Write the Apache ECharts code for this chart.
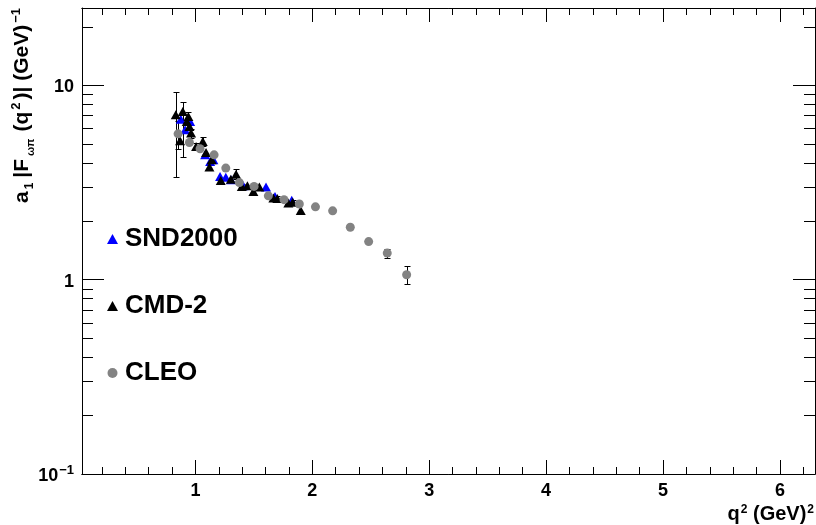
<!DOCTYPE html>
<html><head><meta charset="utf-8">
<script src="https://cdn.jsdelivr.net/npm/echarts@6/dist/echarts.min.js"></script>
<style>html,body{margin:0;padding:0;background:#fff}#c{width:816px;height:525px}</style>
</head><body><div id="c"></div>
<script>
// ---- axis ranges & ticks ----
const xMin = 0.03, xMax = 6.3, yMin = 0.1, yMax = 25;
const xMajorTicks = [1, 2, 3, 4, 5, 6];
const xMinorTicks = [0.2,0.4,0.6,0.8,1.2,1.4,1.6,1.8,2.2,2.4,2.6,2.8,3.2,3.4,3.6,3.8,4.2,4.4,4.6,4.8,5.2,5.4,5.6,5.8,6.2];
const yMajorTicks = [0.1, 1, 10];
const yMajorLabels = ['10^-1', '1', '10'];
const yMinorTicks = [0.2,0.3,0.4,0.5,0.6,0.7,0.8,0.9,2,3,4,5,6,7,8,9,20];

// ---- SND2000 ----
const sndX = [0.875,0.912,0.955,1.083,1.126,1.154,1.211,1.260,1.305,1.410,1.604,1.681,1.824];
const sndY = [6.70,5.91,6.51,4.39,4.06,4.14,3.40,3.37,3.27,3.04,3.00,2.68,2.56];

// ---- CMD-2 ----
const cmdX = [0.832,0.892,0.869,0.926,0.940,0.949,0.963,1.006,1.063,1.091,1.120,1.140,1.217,1.303,1.348,1.397,1.445,1.496,1.547,1.667,1.701,1.795,1.832,1.901];
const cmdY = [7.05,7.33,5.18,6.51,6.91,6.14,5.68,4.85,5.14,4.51,3.80,4.14,3.24,3.29,3.49,3.02,3.04,2.84,3.00,2.63,2.62,2.48,2.50,2.27];
const cmdErrLo = [3.66,3.03,0,0,0.4,0,0.3,0.2,0.25,0,0.1,0,0.1,0,0.2,0.08,0,0.1,0,0,0.06,0,0.06,0];
const cmdErrHi = [2.21,0.83,0,0,0.4,0,0.3,0.2,0.25,0,0.1,0,0.1,0,0.2,0.08,0,0.1,0,0,0.06,0,0.06,0];

// ---- CLEO ----
const cleoX = [0.852,0.949,1.040,1.160,1.260,1.376,1.502,1.624,1.758,1.889,2.027,2.174,2.325,2.482,2.641,2.807];
const cleoY = [5.63,5.08,4.72,4.39,3.75,3.16,3.02,2.70,2.58,2.45,2.37,2.26,1.86,1.57,1.37,1.06];
const cleoErr = [0.9,0.1,0,0,0,0,0,0,0,0,0,0,0,0,0.07,0.11];

const seriesNames = ['SND2000', 'CMD-2', 'CLEO'];

const FONT = 'Liberation Sans, Arial, Helvetica, sans-serif';
const chart = echarts.init(document.getElementById('c'), null, {renderer: 'canvas'});

const zip = (xs, ys) => xs.map((x, i) => [x, ys[i]]);
const errData = (xs, ys, lo, hi) => xs.map((x, i) => [x, ys[i], ys[i] - lo[i], ys[i] + hi[i]]);

function errRender(params, api) {
  const x = api.value(0), lo = api.value(2), hi = api.value(3);
  if (!(hi > lo)) return null;
  const p1 = api.coord([x, hi]), p2 = api.coord([x, lo]);
  const cx = Math.round(p1[0]) + 0.5;
  const y1 = Math.round(p1[1]) + 0.5, y2 = Math.round(p2[1]) + 0.5;
  const w = 3;
  const st = {stroke: '#000', lineWidth: 1};
  return {type: 'group', children: [
    {type: 'line', shape: {x1: cx, y1: y1, x2: cx, y2: y2}, style: st},
    {type: 'line', shape: {x1: cx - w, y1: y1, x2: cx + w, y2: y1}, style: st},
    {type: 'line', shape: {x1: cx - w, y1: y2, x2: cx + w, y2: y2}, style: st}
  ]};
}

function minorYRender(params, api) {
  const v = api.value(1);
  const pl = api.coord([xMin, v]), pr = api.coord([xMax, v]);
  const y = Math.round(pl[1]) + 0.5;
  const xl = Math.round(pl[0]), xr = Math.round(pr[0]);
  const st = {stroke: '#000', lineWidth: 1};
  return {type: 'group', children: [
    {type: 'line', shape: {x1: xl, y1: y, x2: xl + 11, y2: y}, style: st},
    {type: 'line', shape: {x1: xr - 11, y1: y, x2: xr, y2: y}, style: st}
  ]};
}

const lineStyle = {color: '#000', width: 1};
const baseX = {type: 'value', min: xMin, max: xMax, splitLine: {show: false}, axisLine: {lineStyle: lineStyle}};
const baseY = {type: 'log', logBase: 10, min: yMin, max: yMax, splitLine: {show: false}, axisLine: {lineStyle: lineStyle}, minorTick: {show: false}};

const option = {
  animation: false,
  backgroundColor: '#fff',
  grid: {left: 82, top: 8, width: 733, height: 466, containLabel: false},
  xAxis: [
    Object.assign({}, baseX, {position: 'bottom',
      axisTick: {inside: true, length: 14, customValues: xMajorTicks, lineStyle: lineStyle},
      axisLabel: {customValues: xMajorTicks, margin: 8, color: '#000', fontSize: 18, fontWeight: 'bold', fontFamily: FONT}}),
    Object.assign({}, baseX, {position: 'bottom',
      axisTick: {inside: true, length: 7, customValues: xMinorTicks, lineStyle: lineStyle},
      axisLabel: {show: false}}),
    Object.assign({}, baseX, {position: 'top',
      axisTick: {inside: true, length: 14, customValues: xMajorTicks, lineStyle: lineStyle},
      axisLabel: {show: false}}),
    Object.assign({}, baseX, {position: 'top',
      axisTick: {inside: true, length: 7, customValues: xMinorTicks, lineStyle: lineStyle},
      axisLabel: {show: false}})
  ],
  yAxis: [
    Object.assign({}, baseY, {position: 'left',
      axisTick: {inside: true, length: 22, lineStyle: lineStyle},
      axisLabel: {margin: 8, showMinLabel: true, showMaxLabel: false, color: '#000', fontSize: 18, fontWeight: 'bold', fontFamily: FONT,
        formatter: function (v) {
          for (let i = 0; i < yMajorTicks.length; i++) {
            if (Math.abs(v - yMajorTicks[i]) < 1e-9 * Math.max(1, v)) {
              const s = yMajorLabels[i];
              if (s.indexOf('^') >= 0) { const p = s.split('^'); return '{b|' + p[0] + '}{s|' + p[1].replace('-', '\u2212') + '}'; }
              return '{b|' + s + '}';
            }
          }
          return '';
        },
        rich: {
          b: {fontSize: 18, fontWeight: 'bold', fontFamily: FONT, color: '#000', padding: [4, 0, 0, 0]},
          s: {fontSize: 13, fontWeight: 'bold', fontFamily: FONT, color: '#000', padding: [0, 0, 8, 1]}
        }}}),
    Object.assign({}, baseY, {position: 'right',
      axisTick: {inside: true, length: 22, lineStyle: lineStyle},
      axisLabel: {show: false}})
  ],
  legend: {
    orient: 'vertical', left: 102, top: 221, itemWidth: 11, itemHeight: 10, itemGap: 41,
    selectedMode: false,
    textStyle: {fontSize: 26, fontWeight: 'bold', color: '#000', fontFamily: FONT, padding: [0, 0, 0, 2]},
    data: [{name: seriesNames[0], icon: 'triangle'}, {name: seriesNames[1], icon: 'triangle'}, {name: seriesNames[2], icon: 'circle'}]
  },
  graphic: [
    {type: 'text', x: 22, y: 6, rotation: Math.PI / 2, silent: true,
      style: {
        text: '{m|a}{d|1}{m||F}{d2|\u03c9\u03c0}{m|(q}{u|2}{m|)| (GeV)}{u|\u22121}',
        align: 'right', verticalAlign: 'middle',
        rich: {
          m: {fontSize: 21, fontWeight: 'bold', fontFamily: FONT, fill: '#000', lineHeight: 30, padding: [0, 1, 0, 1]},
          d: {fontSize: 12, fontWeight: 'bold', fontFamily: FONT, fill: '#000', padding: [16, 4, 0, 1]},
          d2: {fontSize: 11, fontWeight: 'bold', fontFamily: FONT, fill: '#000', padding: [18, 6, 0, 2]},
          u: {fontSize: 13, fontWeight: 'bold', fontFamily: FONT, fill: '#000', padding: [0, 2, 12, 1]}
        }
      }},
    {type: 'text', x: 814, y: 514, silent: true,
      style: {
        text: '{m|q}{u|2}{m| (GeV)}{u|2}',
        align: 'right', verticalAlign: 'middle',
        rich: {
          m: {fontSize: 20, fontWeight: 'bold', fontFamily: FONT, fill: '#000'},
          u: {fontSize: 12, fontWeight: 'bold', fontFamily: FONT, fill: '#000', padding: [0, 0, 9, 1]}
        }
      }}
  ],
  series: [
    {type: 'custom', name: 'yminor', silent: true, xAxisIndex: 0, yAxisIndex: 0, clip: false,
      renderItem: minorYRender, data: yMinorTicks.map(v => [xMin, v]), z: 3},
    {type: 'scatter', name: seriesNames[0], xAxisIndex: 0, yAxisIndex: 0, symbol: 'triangle', symbolSize: [10, 9],
      itemStyle: {color: '#0000ff', opacity: 1}, data: zip(sndX, sndY), z: 4},
    {type: 'custom', name: 'cmdErr', silent: true, xAxisIndex: 0, yAxisIndex: 0, renderItem: errRender,
      data: errData(cmdX, cmdY, cmdErrLo, cmdErrHi), z: 4},
    {type: 'scatter', name: seriesNames[1], xAxisIndex: 0, yAxisIndex: 0, symbol: 'triangle', symbolSize: [10, 9],
      itemStyle: {color: '#000000', opacity: 1}, data: zip(cmdX, cmdY), z: 4},
    {type: 'custom', name: 'cleoErr', silent: true, xAxisIndex: 0, yAxisIndex: 0, renderItem: errRender,
      data: errData(cleoX, cleoY, cleoErr, cleoErr), z: 4},
    {type: 'scatter', name: seriesNames[2], xAxisIndex: 0, yAxisIndex: 0, symbol: 'circle', symbolSize: 9,
      itemStyle: {color: '#838383', opacity: 1}, data: zip(cleoX, cleoY), z: 4}
  ]
};
chart.setOption(option);
</script>
</body></html>
